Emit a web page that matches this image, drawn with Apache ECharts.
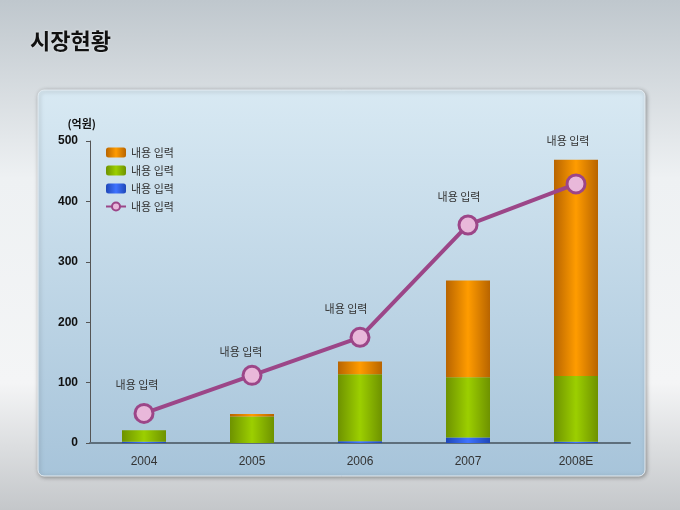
<!DOCTYPE html>
<html>
<head>
<meta charset="utf-8">
<script src="https://cdn.jsdelivr.net/npm/echarts@6/dist/echarts.min.js"></script>
<style>
  html, body { margin: 0; padding: 0; }
  #chart { width: 680px; height: 510px; }
</style>
</head>
<body>
<div id="chart"></div>
<script>
// 데이터
var years = ['2004', '2005', '2006', '2007', '2008E'];
var blueValues = [2, 0, 3, 9, 2];
var greenValues = [19, 44, 111, 100, 109];
var orangeValues = [0, 4, 21, 160, 358];
var lineValues = [49, 112, 175, 361, 429];
var seriesNames = ['orange', 'green', 'blue', 'line'];
var legendText = '내용 입력';
var pointLabel = '내용 입력';

var chartDom = document.getElementById('chart');
var myChart = echarts.init(chartDom);

function barGrad(edge, mid) {
  return new echarts.graphic.LinearGradient(0, 0, 1, 0, [
    { offset: 0, color: edge },
    { offset: 0.5, color: mid },
    { offset: 1, color: edge }
  ]);
}

var krFont = '"Noto Sans CJK KR", sans-serif';

// 점 라벨 위치 보정
var labelOffsets = [[-7, 0], [-11, 5], [-14, 1], [-9, 1], [-8, -14]];

var option = {
  backgroundColor: new echarts.graphic.LinearGradient(0, 0, 0, 1, [
    { offset: 0, color: '#bfc7cd' },
    { offset: 0.35, color: '#eef1f3' },
    { offset: 0.75, color: '#f4f5f6' },
    { offset: 1, color: '#c4c7ca' }
  ]),
  title: {
    text: '시장현황',
    left: 25,
    top: 25,
    textStyle: {
      fontFamily: krFont,
      fontSize: 22,
      fontWeight: 'bold',
      color: '#111',
      textShadowColor: 'rgba(255,255,255,0.8)',
      textShadowBlur: 2
    }
  },
  graphic: [
    {
      type: 'rect',
      z: -10,
      shape: { x: 38, y: 90, width: 607, height: 386, r: 6 },
      style: {
        fill: new echarts.graphic.LinearGradient(0, 0, 0, 1, [
          { offset: 0, color: '#d8e9f3' },
          { offset: 1, color: '#a7c4da' }
        ]),
        stroke: '#e6eef4',
        lineWidth: 1,
        shadowColor: 'rgba(0,0,0,0.35)',
        shadowBlur: 4,
        shadowOffsetX: 1,
        shadowOffsetY: 1
      }
    }
  ],
  legend: {
    data: seriesNames,
    orient: 'vertical',
    left: 105,
    top: 147,
    padding: 0,
    itemWidth: 20,
    itemHeight: 10,
    itemGap: 7,
    formatter: function () { return legendText; },
    textStyle: { fontFamily: krFont, fontSize: 11, color: '#333' }
  },
  grid: { left: 90, right: 50, top: 141, bottom: 67 },
  xAxis: {
    type: 'category',
    data: years,
    axisLine: { lineStyle: { color: '#5e6f7c', width: 2 } },
    axisTick: { show: false },
    axisLabel: { fontFamily: 'Liberation Sans, Arial', fontSize: 12, color: '#333', margin: 13 }
  },
  yAxis: {
    type: 'value',
    min: 0,
    max: 500,
    interval: 100,
    name: '(억원)',
    nameLocation: 'end',
    nameGap: 12,
    nameTextStyle: { fontFamily: krFont, fontSize: 11, fontWeight: 'bold', color: '#111', align: 'right', padding: [0, -6, 0, 0] },
    splitLine: { show: false },
    axisLine: { show: true, lineStyle: { color: '#555', width: 1 } },
    axisTick: { show: true, length: 4, lineStyle: { color: '#555' } },
    axisLabel: { fontFamily: 'Liberation Sans, Arial', fontSize: 12, fontWeight: 'bold', color: '#111', margin: 12 }
  },
  series: [
    {
      name: 'blue',
      type: 'bar',
      stack: 'total',
      barWidth: 44,
      data: blueValues,
      itemStyle: { color: barGrad('#1f47b8', '#3f73ff') }
    },
    {
      name: 'green',
      type: 'bar',
      stack: 'total',
      data: greenValues,
      itemStyle: { color: barGrad('#6e9200', '#9ccf00') }
    },
    {
      name: 'orange',
      type: 'bar',
      stack: 'total',
      data: orangeValues,
      itemStyle: { color: barGrad('#b86400', '#ff9c00') }
    },
    {
      name: 'line',
      type: 'line',
      data: lineValues.map(function (v, i) {
        return { value: v, label: { offset: labelOffsets[i] } };
      }),
      symbol: 'circle',
      symbolSize: 18,
      z: 10,
      lineStyle: { color: '#9c4688', width: 4 },
      itemStyle: { color: '#e9b8da', borderColor: '#9c4688', borderWidth: 3 },
      label: {
        show: true,
        position: 'top',
        distance: 13,
        formatter: function () { return pointLabel; },
        fontFamily: krFont,
        fontSize: 11,
        color: '#333'
      }
    }
  ]
};

myChart.setOption(option);
</script>
</body>
</html>
